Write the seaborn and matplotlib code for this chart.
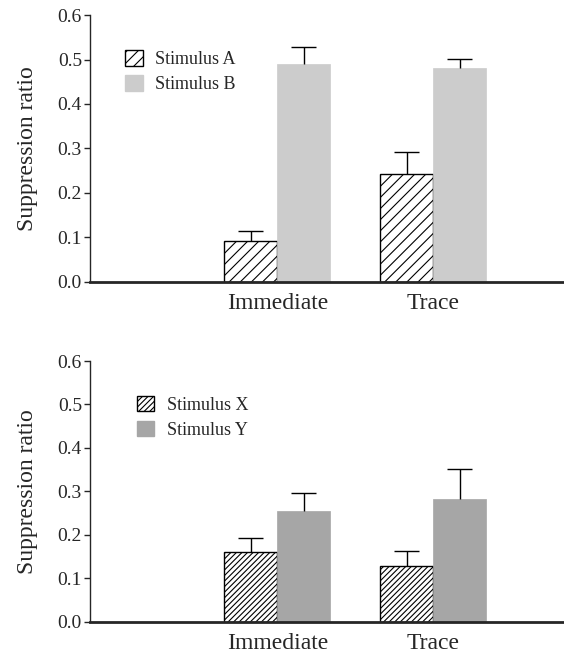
import matplotlib
matplotlib.use("Agg")
import matplotlib.pyplot as plt
import seaborn as sns
import pandas as pd
import numpy as np
from matplotlib.patches import Patch

conditions = ["Immediate", "Trace"]
top_series = ["Stimulus A", "Stimulus B"]
top_means = {"Stimulus A": [0.092, 0.243], "Stimulus B": [0.490, 0.481]}
top_errs = {"Stimulus A": [0.023, 0.050], "Stimulus B": [0.038, 0.020]}
bot_series = ["Stimulus X", "Stimulus Y"]
bot_means = {"Stimulus X": [0.161, 0.129], "Stimulus Y": [0.255, 0.283]}
bot_errs = {"Stimulus X": [0.032, 0.034], "Stimulus Y": [0.042, 0.069]}
yticks = [0.0, 0.1, 0.2, 0.3, 0.4, 0.5, 0.6]

sns.set_style("ticks")
plt.rcParams['font.family'] = ['Liberation Serif', 'DejaVu Serif']
plt.rcParams['hatch.linewidth'] = 0.8

fig = plt.figure(figsize=(5.64, 6.54), dpi=100)
ax1 = fig.add_axes([0.16, 0.569, 0.84, 0.408])
ax2 = fig.add_axes([0.16, 0.049, 0.84, 0.399])

CAP = 0.08  # cap half-width in category units


def draw(ax, series, means, errs, fill, hatch, leg_x, leg_y):
    rows = []
    for s in series:
        for c, m in zip(conditions, means[s]):
            rows.append({"condition": c, "stimulus": s, "value": m})
    df = pd.DataFrame(rows)
    palette = {series[0]: "white", series[1]: fill}
    sns.barplot(data=df, x="condition", y="value", hue="stimulus",
                order=conditions, hue_order=series, palette=palette,
                width=0.68, errorbar=None, legend=False, ax=ax,
                saturation=1)
    bars = list(ax.patches)
    n = len(conditions)
    for i, s in enumerate(series):
        for j in range(n):
            p = bars[i * n + j]
            if i == 0:
                p.set_hatch(hatch)
                p.set_edgecolor("black")
                p.set_linewidth(1.0)
            else:
                p.set_edgecolor(fill)
                p.set_linewidth(0.5)
            xc = p.get_x() + p.get_width() / 2
            h = p.get_height()
            top = h + errs[s][j]
            ax.vlines(xc, h, top, colors="black", linewidth=1.0, zorder=3)
            ax.hlines(top, xc - CAP, xc + CAP, colors="black", linewidth=1.0, zorder=3)
    ax.set_xlim(-1.2, 1.84)
    ax.set_ylim(0, 0.6)
    ax.set_yticks(yticks)
    ax.set_yticklabels([f"{t:.1f}" for t in yticks], fontsize=14)
    ax.set_xlabel("")
    ax.set_ylabel("Suppression ratio", fontsize=17, labelpad=14)
    ax.tick_params(axis="x", length=0, labelsize=17, pad=8)
    ax.tick_params(axis="y", length=4, width=1, direction="out", pad=2)
    sns.despine(ax=ax)
    ax.spines["left"].set_linewidth(1.0)
    ax.spines["bottom"].set_linewidth(2.0)
    handles = [Patch(facecolor="white", edgecolor="black", hatch=hatch, linewidth=1.0),
               Patch(facecolor=fill, edgecolor=fill)]
    ax.legend(handles, series, loc="upper left", bbox_to_anchor=(leg_x, leg_y),
              frameon=False, fontsize=13, handlelength=0.95, handleheight=0.95,
              handletextpad=0.7, labelspacing=0.4)


draw(ax1, top_series, top_means, top_errs, "#cccccc", "///", 0.04, 0.93)
draw(ax2, bot_series, bot_means, bot_errs, "#a6a6a6", "//////", 0.065, 0.93)

fig.savefig("out.png", dpi=100)
